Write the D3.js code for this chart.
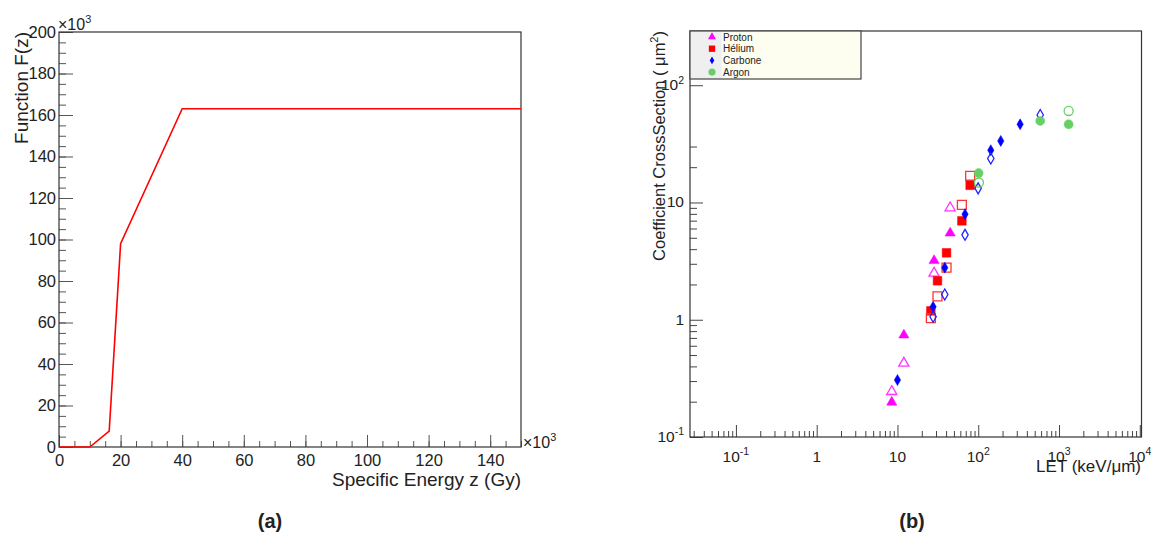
<!DOCTYPE html>
<html><head><meta charset="utf-8">
<script src="https://cdn.jsdelivr.net/npm/d3@7"></script>
<style>
html,body{margin:0;padding:0;background:#fff;}
svg{display:block;}
text{font-family:"Liberation Sans",Arial,sans-serif;fill:#222;}
</style></head>
<body>
<svg id="chart" width="1153" height="536"></svg>
<script>
// ---------- Data: panel (a) ----------
const specificEnergy = [0, 10, 16.3, 20, 40, 150];      // ×10^3 Gy
const functionF = [0, 0, 7.7, 98, 163, 163];            // ×10^3
const aXTicks = [0, 20, 40, 60, 80, 100, 120, 140];
const aYTicks = [0, 20, 40, 60, 80, 100, 120, 140, 160, 180, 200];

// ---------- Data: panel (b) ----------
const protonLET = [8.5, 12.0, 28.4, 44.9];
const protonFull = [0.198, 0.74, 3.19, 5.48];
const protonOpen = [0.244, 0.426, 2.49, 9.0];

const heliumLET = [25.9, 31.3, 40.5, 62.7, 79.4];
const heliumFull = [1.19, 2.15, 3.72, 6.97, 14.0];
const heliumOpen = [1.03, 1.58, 2.78, 9.54, 16.9];

const carboneLETFull = [10.0, 27.6, 38.5, 68.6, 143, 190, 330];
const carboneFull = [0.306, 1.29, 2.78, 7.95, 27.9, 33.5, 46.4];
const carboneLETOpen = [27.6, 38.5, 68.6, 99.7, 143, 585];
const carboneOpen = [1.06, 1.64, 5.30, 13.2, 23.7, 55.7];

const argonLETFull = [101, 585, 1315];
const argonFull = [17.8, 49.6, 46.4];
const argonLETOpen = [102, 1315];
const argonOpen = [14.8, 60.3];

const legendNames = ["Proton", "Hélium", "Carbone", "Argon"];
const bXTicks = [0.1, 1, 10, 100, 1000, 10000];
const bXTickLabels = [["10","-1"], ["1",""], ["10",""], ["10","2"], ["10","3"], ["10","4"]];
const bYTicks = [0.1, 1, 10, 100];
const bYTickLabels = [["10","-1"], ["1",""], ["10",""], ["10","2"]];

const svg = d3.select("#chart");

// =============== Panel (a) ===============
const ax = d3.scaleLinear().domain([0, 150]).range([59, 521]);
const ay = d3.scaleLinear().domain([0, 200]).range([447, 32]);
const ga = svg.append("g");

// minor ticks
ga.append("g").attr("transform", `translate(0,${ay(0)})`)
  .call(d3.axisBottom(ax).tickValues(d3.range(0, 151, 5)).tickSize(-6).tickFormat(""));
ga.append("g").attr("transform", `translate(${ax(0)},0)`)
  .call(d3.axisLeft(ay).tickValues(d3.range(0, 201, 5)).tickSize(-7).tickFormat(""));
// major ticks
ga.append("g").attr("class","axA").attr("transform", `translate(0,${ay(0)})`)
  .call(d3.axisBottom(ax).tickValues(aXTicks).tickSize(-12).tickPadding(7).tickFormat(d3.format("d")));
ga.append("g").attr("class","axA").attr("transform", `translate(${ax(0)},0)`)
  .call(d3.axisLeft(ay).tickValues(aYTicks).tickSize(-14).tickPadding(3).tickFormat(d3.format("d")));
ga.selectAll(".domain").remove();
ga.selectAll(".tick line").attr("stroke", "#555").attr("stroke-width", 1);
ga.selectAll(".axA text").attr("font-size", 16.5).attr("fill", "#222")
  .attr("font-family", '"Liberation Sans",Arial,sans-serif');

// frame
ga.append("rect").attr("x", ax(0)).attr("y", ay(200))
  .attr("width", ax(150) - ax(0)).attr("height", ay(0) - ay(200))
  .attr("fill", "none").attr("stroke", "#333").attr("stroke-width", 1.2);

// curve
ga.append("path")
  .datum(specificEnergy.map((z, i) => [z, functionF[i]]))
  .attr("fill", "none").attr("stroke", "#ff0000").attr("stroke-width", 1.6)
  .attr("d", d3.line().x(d => ax(d[0])).y(d => ay(d[1])));

// exponent labels
function exp10(g, x, y, anchor, size, base, sup) {
  const t = g.append("text").attr("x", x).attr("y", y).attr("text-anchor", anchor).attr("font-size", size);
  t.append("tspan").text(base);
  if (sup) t.append("tspan").attr("dy", -size * 0.42).attr("font-size", size * 0.68).text(sup);
  return t;
}
exp10(ga, 58, 30, "start", 16, "×10", "3").attr("fill", "#444");
exp10(ga, 523, 448, "start", 16, "×10", "3").attr("fill", "#444");

// titles
ga.append("text").attr("x", 521).attr("y", 486).attr("text-anchor", "end")
  .attr("font-size", 19).text("Specific Energy z (Gy)");
ga.append("text").attr("transform", "translate(28,32) rotate(-90)")
  .attr("text-anchor", "end").attr("font-size", 19).text("Function F(z)");

svg.append("text").attr("x", 270).attr("y", 528).attr("text-anchor", "middle")
  .attr("font-family", '"DejaVu Sans",sans-serif').attr("font-weight", "bold")
  .attr("font-size", 20).text("(a)");

// =============== Panel (b) ===============
const bx = d3.scaleLog().domain([0.027, 10500]).range([690, 1141.5]);
const by = d3.scaleLog().domain([0.1, 290]).range([437, 31]);
const gb = svg.append("g");

// minor ticks
const bxMinor = [];
for (let e = -2; e <= 4; e++) for (let m = 2; m <= 9; m++) {
  const v = m * Math.pow(10, e);
  if (v >= 0.027 && v <= 10500) bxMinor.push(v);
}
const byMinor = [];
for (let e = -1; e <= 0; e++) for (let m = 2; m <= 9; m++) byMinor.push(m * Math.pow(10, e));
byMinor.push(20, 30);

gb.append("g").attr("transform", `translate(0,${by(0.1)})`)
  .call(d3.axisBottom(bx).tickValues(bxMinor).tickSize(-6).tickFormat(""));
gb.append("g").attr("transform", `translate(${bx(0.027)},0)`)
  .call(d3.axisLeft(by).tickValues(byMinor).tickSize(-7).tickFormat(""));
gb.append("g").attr("transform", `translate(0,${by(0.1)})`)
  .call(d3.axisBottom(bx).tickValues(bXTicks).tickSize(-12).tickFormat(""));
gb.append("g").attr("transform", `translate(${bx(0.027)},0)`)
  .call(d3.axisLeft(by).tickValues(bYTicks).tickSize(-13).tickFormat(""));
gb.selectAll(".domain").remove();
gb.selectAll(".tick line").attr("stroke", "#444").attr("stroke-width", 1);

// tick labels
bXTicks.forEach((v, i) => {
  exp10(gb, bx(v), 462, "middle", 15.5, bXTickLabels[i][0], bXTickLabels[i][1]).attr("fill", "#333");
});
bYTicks.forEach((v, i) => {
  exp10(gb, 684, by(v) + 5, "end", 15.5, bYTickLabels[i][0], bYTickLabels[i][1]).attr("fill", "#333");
});

// frame
gb.append("rect").attr("x", bx(0.027)).attr("y", by(290))
  .attr("width", bx(10500) - bx(0.027)).attr("height", by(0.1) - by(290))
  .attr("fill", "none").attr("stroke", "#333").attr("stroke-width", 1.2);

// titles
gb.append("text").attr("x", 1141).attr("y", 472).attr("text-anchor", "end")
  .attr("font-size", 17).attr("fill", "#333").text("LET (keV/μm)");
const yt = gb.append("text").attr("transform", "translate(665,31) rotate(-90)")
  .attr("text-anchor", "end").attr("font-size", 16.5).attr("fill", "#333");
yt.append("tspan").text("Coefficient CrossSection ( μm");
yt.append("tspan").attr("dy", -7).attr("font-size", 11).text("2");
yt.append("tspan").attr("dy", 7).text(")");

// markers
const green = "#66d066";
const series = [
  {x: protonLET, y: protonFull, sym: d3.symbolTriangle, size: 45, color: "#ff00ff", fill: true},
  {x: protonLET, y: protonOpen, sym: d3.symbolTriangle, size: 45, color: "#ff33ff", fill: false},
  {x: heliumLET, y: heliumFull, sym: d3.symbolSquare, size: 75, color: "#ff0000", fill: true},
  {x: heliumLET, y: heliumOpen, sym: d3.symbolSquare, size: 80, color: "#ff3333", fill: false},
  {x: carboneLETFull, y: carboneFull, sym: d3.symbolDiamond, size: 35, color: "#0000ff", fill: true},
  {x: carboneLETOpen, y: carboneOpen, sym: d3.symbolDiamond, size: 35, color: "#2222ff", fill: false},
  {x: argonLETFull, y: argonFull, sym: d3.symbolCircle, size: 64, color: green, fill: true},
  {x: argonLETOpen, y: argonOpen, sym: d3.symbolCircle, size: 64, color: green, fill: false}
];
series.forEach(s => {
  gb.append("g").selectAll("path").data(s.x.map((v, i) => [v, s.y[i]])).join("path")
    .attr("transform", d => `translate(${bx(d[0])},${by(d[1])})`)
    .attr("d", d3.symbol().type(s.sym).size(s.size))
    .attr("fill", s.fill ? s.color : "none")
    .attr("stroke", s.color).attr("stroke-width", s.fill ? 0.5 : 1.3);
});

// legend
const lg = gb.append("g");
lg.append("rect").attr("x", 690).attr("y", 31).attr("width", 171).attr("height", 48)
  .attr("fill", "#fdfdf0").attr("stroke", "none");
lg.append("rect").attr("x", 690.5).attr("y", 31).attr("width", 31).attr("height", 48)
  .attr("fill", "#efefef");
lg.append("rect").attr("x", 690).attr("y", 31).attr("width", 171).attr("height", 48)
  .attr("fill", "none").attr("stroke", "#444").attr("stroke-width", 1.2);
const legSyms = [
  {sym: d3.symbolTriangle, size: 28, color: "#ff00ff"},
  {sym: d3.symbolSquare, size: 40, color: "#ff0000"},
  {sym: d3.symbolDiamond, size: 18, color: "#0000ff"},
  {sym: d3.symbolCircle, size: 40, color: green}
];
legendNames.forEach((n, i) => {
  const yy = 37 + i * 11.7;
  lg.append("path").attr("transform", `translate(712,${yy})`)
    .attr("d", d3.symbol().type(legSyms[i].sym).size(legSyms[i].size))
    .attr("fill", legSyms[i].color);
  lg.append("text").attr("x", 723).attr("y", yy + 3.5)
    .attr("font-family", '"DejaVu Sans",sans-serif').attr("font-size", 10)
    .attr("fill", "#333").text(n);
});

svg.append("text").attr("x", 912).attr("y", 528).attr("text-anchor", "middle")
  .attr("font-family", '"DejaVu Sans",sans-serif').attr("font-weight", "bold")
  .attr("font-size", 20).text("(b)");
</script>
</body></html>
